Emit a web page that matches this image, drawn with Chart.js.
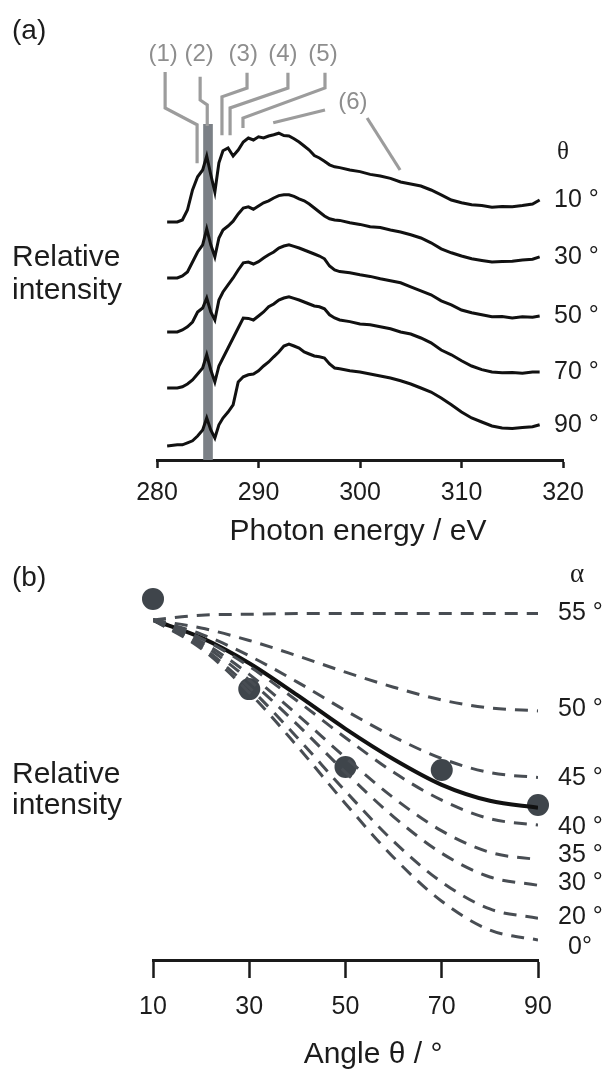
<!DOCTYPE html>
<html lang="en">
<head>
<meta charset="UTF-8">
<title>NEXAFS angle dependence</title>
<style>
  body {margin:0;background:#fff;}
  .wrap {position:relative;width:610px;height:1072px;overflow:hidden;}
  #chartA {position:absolute;left:0;top:0;}
  #chartB {position:absolute;left:0;top:560px;}
</style>
</head>
<body>
<div class="wrap">
  <canvas id="chartA" width="610" height="560"></canvas>
  <canvas id="chartB" width="610" height="512"></canvas>
</div>

<script src="https://cdn.jsdelivr.net/npm/chart.js"></script>
<script>
// ---- panel (a): spectra ----
const energy = [281, 282, 282.5, 283, 283.5, 284, 284.5, 284.9, 285.3, 285.7,
  286.1, 286.5, 287, 287.5, 288, 288.5, 289, 289.5, 290, 290.5,
  291, 291.5, 292, 292.5, 293, 293.5, 294, 294.5, 295, 295.5,
  296, 296.5, 297, 297.5, 298, 299, 300, 301, 302, 303,
  304, 305, 306, 307, 308, 309, 310, 311, 312, 313,
  314, 315, 316, 317, 317.7];
const thetaLabels = ['10 °', '30 °', '50 °', '70 °', '90 °'];
const offsets = [5.95, 4.55, 3.2, 1.8, 0.35];   // stacking of the spectra
const spec10 = [0, 0, .05, .3, .8, 1.13, 1.3, 1.65, 1.18, .75,
  1.48, 1.78, 1.85, 1.65, 1.8, 2.0, 2.1, 2.05, 2.13, 2.1,
  2.15, 2.18, 2.22, 2.16, 2.15, 2.08, 2.0, 1.9, 1.8, 1.66,
  1.6, 1.52, 1.43, 1.38, 1.36, 1.3, 1.26, 1.19, 1.15, 1.09,
  1.0, .95, .9, .8, .68, .55, .48, .43, .41, .37,
  .39, .38, .41, .45, .55];
const spec30 = [0, 0, .05, .15, .4, .65, .83, 1.23, .83, .53,
  1.0, 1.2, 1.3, 1.42, 1.6, 1.75, 1.78, 1.72, 1.8, 1.88,
  1.93, 2.0, 2.06, 2.08, 2.08, 2.04, 1.98, 1.93, 1.85, 1.75,
  1.65, 1.55, 1.48, 1.45, 1.44, 1.38, 1.34, 1.28, 1.26, 1.2,
  1.15, 1.08, 1.0, .88, .73, .63, .55, .48, .44, .4,
  .41, .42, .45, .47, .53];
const spec50 = [0, 0, .05, .13, .25, .5, .6, .85, .5, .3,
  .8, 1.0, 1.18, 1.35, 1.55, 1.73, 1.75, 1.7, 1.76, 1.85,
  1.93, 2.0, 2.1, 2.15, 2.18, 2.14, 2.1, 2.05, 2.0, 1.95,
  1.9, 1.83, 1.65, 1.55, 1.51, 1.48, 1.43, 1.39, 1.33, 1.28,
  1.23, 1.13, 1.03, .93, .78, .68, .55, .48, .43, .38,
  .39, .35, .38, .37, .4];
const spec70 = [0, 0, .03, .1, .2, .35, .5, .83, .45, .15,
  .55, .75, 1.0, 1.25, 1.5, 1.75, 1.74, 1.7, 1.8, 1.9,
  2.03, 2.1, 2.2, 2.25, 2.28, 2.24, 2.2, 2.15, 2.1, 2.05,
  2.03, 1.98, 1.83, 1.75, 1.7, 1.66, 1.6, 1.58, 1.53, 1.48,
  1.4, 1.35, 1.25, 1.13, .95, .83, .68, .55, .46, .4,
  .38, .39, .37, .4, .4];
const spec90 = [0, .03, .03, .08, .13, .25, .4, .7, .4, .2,
  .53, .7, .85, 1.03, 1.6, 1.73, 1.78, 1.8, 1.88, 2.0,
  2.1, 2.23, 2.35, 2.5, 2.55, 2.5, 2.45, 2.35, 2.3, 2.25,
  2.23, 2.2, 2.05, 1.95, 1.93, 1.88, 1.85, 1.8, 1.75, 1.7,
  1.63, 1.55, 1.45, 1.35, 1.2, 1.03, .85, .7, .6, .5,
  .45, .44, .46, .48, .53];
const bandEv = [284.55, 285.5];
const bandTop = 8.4;
// peak markers (eV, intensity units)
const peakNames = ['(1)', '(2)', '(3)', '(4)', '(5)', '(6)'];
const peakLabelEv = [280.6, 284.15, 288.5, 292.4, 296.35, 299.3];
const peakLabelY = [10.13, 10.13, 10.13, 10.13, 10.13, 8.95];
const leaders = [
  [[280.8, 9.7], [280.8, 8.8], [283.95, 8.38], [283.95, 7.42]],
  [[284.25, 9.58], [284.25, 9.0], [284.95, 8.88], [284.95, 8.35]],
  [[288.87, 9.68], [288.87, 9.3], [286.4, 9.08], [286.4, 8.12]],
  [[292.9, 9.68], [292.9, 9.3], [287.2, 8.8], [287.2, 8.12]],
  [[296.55, 9.68], [296.55, 9.3], [288.47, 8.55], [288.47, 8.3]],
  [[291.45, 8.43], [296.55, 8.75]],
  [[300.7, 8.55], [303.95, 7.25]]
];

// ---- panel (b): angular dependence ----
const theta = [10, 20, 30, 40, 50, 60, 70, 80, 90];
const alphas = ['55 °', '50 °', '45 °', '40 °', '35 °', '30 °', '20 °', '0°'];
const alphaLabelY = [1.022, .72, .506, .353, .266, .178, .072, -.022];
const calc55 = [1.00, 1.015, 1.018, 1.02, 1.02, 1.02, 1.02, 1.02, 1.02];
const calc50 = [1.00, .975, .936, .888, .837, .79, .75, .725, .716];
const calc45 = [1.00, .956, .888, .806, .717, .635, .567, .523, .508];
const calc40 = [1.00, .943, .855, .747, .632, .524, .437, .379, .359];
const calc35 = [1.00, .933, .830, .704, .570, .444, .341, .274, .251];
const calc30 = [1.00, .926, .812, .673, .524, .385, .271, .197, .171];
const calc20 = [1.00, .917, .789, .632, .465, .308, .181, .097, .068];
const calc0  = [1.00, .911, .773, .605, .426, .258, .121, .031, 0];
const fitCurve = [1.00, .945, .865, .765, .66, .565, .485, .435, .413];
const measTheta = [10, 30, 50, 70, 90];
const measured = [1.066, .784, .541, .531, .422];

const FONT = "'Liberation Sans', Arial, Helvetica, sans-serif";
const SERIF = "'Liberation Serif', 'DejaVu Serif', serif";
const INK = '#1c1c1c';

function txt(ctx, s, x, y, size, align, color, family) {
  ctx.font = size + 'px ' + (family || FONT);
  ctx.fillStyle = color || INK;
  ctx.textAlign = align || 'left';
  ctx.textBaseline = 'middle';
  ctx.fillText(s, x, y);
}

const bandPlugin = {
  id: 'band',
  beforeDatasetsDraw(chart) {
    const {ctx, scales: {x, y}} = chart;
    const x0 = x.getPixelForValue(bandEv[0]), x1 = x.getPixelForValue(bandEv[1]);
    const y0 = y.getPixelForValue(bandTop), y1 = y.getPixelForValue(0);
    ctx.save();
    ctx.fillStyle = '#7b8086';
    ctx.fillRect(x0, y0, x1 - x0, y1 - y0);
    ctx.restore();
  }
};

const textA = {
  id: 'textA',
  afterDraw(chart) {
    const {ctx, scales: {x, y}} = chart;
    ctx.save();
    txt(ctx, '(a)', 12, 31, 28);
    txt(ctx, 'Relative', 12, 258, 30);
    txt(ctx, 'intensity', 12, 291, 30);
    peakNames.forEach((n, i) => {
      txt(ctx, n, x.getPixelForValue(peakLabelEv[i]), y.getPixelForValue(peakLabelY[i]), 24, 'center', '#8e8e8e');
    });
    txt(ctx, 'θ', 563, 152, 25, 'center', INK, SERIF);
    thetaLabels.forEach((t, i) => {
      const s = spectraA[i];
      txt(ctx, t, 554, y.getPixelForValue(offsets[i] + s[s.length - 1]), 25);
    });
    txt(ctx, 'Photon energy / eV', 358, 532, 30, 'center');
    ctx.restore();
  }
};

const textB = {
  id: 'textB',
  afterDraw(chart) {
    const {ctx, scales: {x, y}} = chart;
    ctx.save();
    txt(ctx, '(b)', 12, 18, 28);
    txt(ctx, 'Relative', 12, 215, 30);
    txt(ctx, 'intensity', 12, 246, 30);
    txt(ctx, 'α', 577, 15, 27, 'center', INK, SERIF);
    alphas.forEach((a, i) => {
      const left = x.getPixelForValue(90) + (a === '0°' ? 30 : 20);
      txt(ctx, a, left, y.getPixelForValue(alphaLabelY[i]), 25);
    });
    txt(ctx, 'Angle θ / °', 373, 495, 30, 'center');
    ctx.restore();
  }
};

const spectraA = [spec10, spec30, spec50, spec70, spec90];
new Chart(document.getElementById('chartA'), {
  type: 'line',
  data: {
    datasets: [
      ...spectraA.map((s, i) => ({
        data: energy.map((e, j) => ({x: e, y: offsets[i] + s[j]})),
        borderColor: '#111', borderWidth: 3, pointRadius: 0, tension: 0
      })),
      ...leaders.map(l => ({
        data: l.map(p => ({x: p[0], y: p[1]})),
        borderColor: '#9c9c9c', borderWidth: 3.2, pointRadius: 0, tension: 0,
        clip: false, borderJoinStyle: 'miter'
      }))
    ]
  },
  options: {
    responsive: false, animation: false,
    layout: {padding: {left: 157, right: 47, top: 40, bottom: 0}},
    plugins: {legend: {display: false}, tooltip: {enabled: false}},
    scales: {
      x: {
        type: 'linear', min: 280, max: 320,
        afterFit(s) { s.height = 100; },
        ticks: {stepSize: 10, font: {size: 25, family: FONT}, color: '#1c1c1c', padding: 10, maxRotation: 0},
        grid: {drawOnChartArea: false, tickLength: 8, tickWidth: 2.5, tickColor: '#1a1a1a'},
        border: {width: 3, color: '#1a1a1a'}
      },
      y: {display: false, min: 0, max: 10.5}
    }
  },
  plugins: [bandPlugin, textA]
});

const calcCurves = [calc55, calc50, calc45, calc40, calc35, calc30, calc20, calc0];
new Chart(document.getElementById('chartB'), {
  type: 'line',
  data: {
    datasets: [
      ...calcCurves.map(c => ({
        data: theta.map((t, j) => ({x: t, y: c[j]})),
        borderColor: '#484d53', borderWidth: 3, borderDash: [13, 9],
        pointRadius: 0, cubicInterpolationMode: 'monotone'
      })),
      {
        data: theta.map((t, j) => ({x: t, y: fitCurve[j]})),
        borderColor: '#111', borderWidth: 4, pointRadius: 0, cubicInterpolationMode: 'monotone'
      },
      {
        data: measTheta.map((t, j) => ({x: t, y: measured[j]})),
        showLine: false, pointRadius: 11, pointBackgroundColor: '#3f454b',
        pointBorderWidth: 0, clip: false
      }
    ]
  },
  options: {
    responsive: false, animation: false,
    layout: {padding: {left: 153, right: 72, top: 28, bottom: 0}},
    plugins: {legend: {display: false}, tooltip: {enabled: false}},
    scales: {
      x: {
        type: 'linear', min: 10, max: 90,
        afterFit(s) { s.height = 112; },
        ticks: {stepSize: 20, font: {size: 25, family: FONT}, color: '#1c1c1c', padding: 14, maxRotation: 0},
        grid: {drawOnChartArea: false, tickLength: 18, tickWidth: 2.5, tickColor: '#1a1a1a'},
        border: {width: 3, color: '#1a1a1a'}
      },
      y: {display: false, min: -0.0625, max: 1.1}
    }
  },
  plugins: [textB]
});
</script>
</body>
</html>
